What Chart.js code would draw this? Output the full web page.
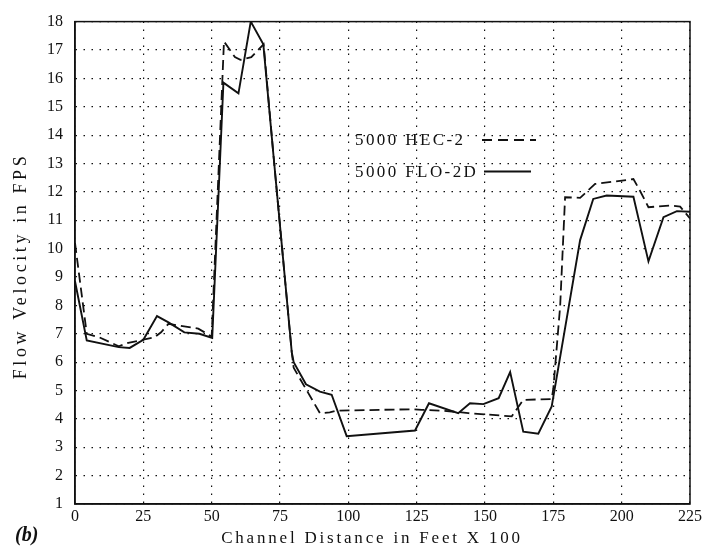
<!DOCTYPE html>
<html>
<head>
<meta charset="utf-8">
<script src="https://cdn.jsdelivr.net/npm/chart.js@4/dist/chart.umd.min.js"></script>
<style>
html,body{margin:0;padding:0;background:#fff;}
#wrap{width:707px;height:549px;position:relative;}
</style>
</head>
<body>
<div id="wrap"><canvas id="c" width="707" height="549"></canvas></div>
<script>
// Tick labels
const xTicks = [0, 25, 50, 75, 100, 125, 150, 175, 200, 225];
const yTicks = [1,2,3,4,5,6,7,8,9,10,11,12,13,14,15,16,17,18];

// Series: 5000 HEC-2 (dashed)
const hecX = [0, 4.3, 9, 16, 19.5, 25, 29, 31.5, 34.2, 45.1, 50, 54.5, 58.5, 60.5, 64.5, 69, 72.6, 79.3, 80, 89.6, 93.2, 95.7, 123.8, 126.9, 133.6, 140.2, 143.9, 159.8, 164, 174.4, 175, 177.5, 179.3, 184.8, 190.3, 199.4, 204.3, 206.7, 209.8, 217.7, 221.4, 225];
const hecY = [10.2, 7.0, 6.87, 6.56, 6.68, 6.79, 6.87, 7.05, 7.35, 7.18, 6.9, 17.3, 16.75, 16.65, 16.75, 17.2, 13.3, 6.35, 5.8, 4.2, 4.23, 4.29, 4.34, 4.32, 4.29, 4.24, 4.2, 4.09, 4.67, 4.7, 5.07, 7.98, 11.81, 11.79, 12.28, 12.39, 12.45, 12.04, 11.46, 11.52, 11.48, 11.06];

// Series: 5000 FLO-2D (solid)
const floX = [0, 4.3, 16, 20, 25, 30, 34.2, 40, 45.5, 50.2, 54.3, 59.8, 64.3, 68.9, 72.6, 79.3, 80, 84.5, 89.6, 93.9, 99.4, 124.4, 129.5, 140.2, 144.5, 149.4, 155, 159.2, 164, 169.5, 174.4, 184.8, 189.6, 194.5, 204.3, 209.8, 215.3, 220.2, 225];
const floY = [8.85, 6.76, 6.53, 6.5, 6.79, 7.62, 7.4, 7.05, 7.0, 6.85, 15.85, 15.47, 18, 17.2, 13.3, 6.35, 6.0, 5.22, 4.96, 4.85, 3.39, 3.59, 4.55, 4.2, 4.55, 4.52, 4.73, 5.65, 3.55, 3.48, 4.44, 10.3, 11.75, 11.87, 11.83, 9.55, 11.11, 11.32, 11.3];

const seriesNames = ['5000 HEC-2', '5000 FLO-2D'];
const xTitle = 'Channel Distance in Feet X 100';
const yTitle = 'Flow Velocity in FPS';
const panelLabel = '(b)';

const toPts = (xs, ys) => xs.map((x, i) => ({x: x, y: ys[i]}));

const INK = '#111';
const SERIF = '"Liberation Serif", "DejaVu Serif", serif';

const decor = {
  id: 'decor',
  afterDraw(chart) {
    const ctx = chart.ctx;
    const a = chart.chartArea;
    ctx.save();
    // frame
    ctx.strokeStyle = INK;
    ctx.lineWidth = 1.5;
    ctx.setLineDash([]);
    ctx.strokeRect(a.left, a.top, a.right - a.left, a.bottom - a.top);

    // legend
    ctx.fillStyle = INK;
    ctx.font = '17px ' + SERIF;
    ctx.textBaseline = 'middle';
    ctx.textAlign = 'left';
    try { ctx.letterSpacing = '2.4px'; } catch (e) {}
    ctx.fillText(seriesNames[0], 355, 141);
    ctx.fillText(seriesNames[1], 355, 173);
    ctx.lineWidth = 1.8;
    ctx.setLineDash([10, 6]);
    ctx.beginPath(); ctx.moveTo(482, 140); ctx.lineTo(536, 140); ctx.stroke();
    ctx.setLineDash([]);
    ctx.beginPath(); ctx.moveTo(484, 171.5); ctx.lineTo(531, 171.5); ctx.stroke();

    // axis titles
    ctx.font = '17px ' + SERIF;
    try { ctx.letterSpacing = '2.8px'; } catch (e) {}
    ctx.textAlign = 'center';
    ctx.textBaseline = 'middle';
    ctx.fillText(xTitle, 372, 539);
    ctx.save();
    ctx.translate(21, 266);
    ctx.rotate(-Math.PI / 2);
    ctx.font = '18px ' + SERIF;
    try { ctx.letterSpacing = '3.6px'; } catch (e) {}
    ctx.fillText(yTitle, 0, 0);
    ctx.restore();

    // panel label
    try { ctx.letterSpacing = '0px'; } catch (e) {}
    ctx.font = 'italic bold 20px ' + SERIF;
    ctx.textAlign = 'left';
    ctx.fillText(panelLabel, 15, 536);
    ctx.restore();
  }
};

new Chart(document.getElementById('c'), {
  type: 'line',
  data: {
    datasets: [
      {
        label: seriesNames[0],
        data: toPts(hecX, hecY),
        borderColor: INK,
        borderWidth: 1.8,
        borderDash: [10, 5],
        pointRadius: 0,
        tension: 0,
        fill: false
      },
      {
        label: seriesNames[1],
        data: toPts(floX, floY),
        borderColor: INK,
        borderWidth: 1.9,
        pointRadius: 0,
        tension: 0,
        fill: false
      }
    ]
  },
  options: {
    responsive: false,
    animation: false,
    devicePixelRatio: 1,
    layout: { padding: { left: 0, top: 16, right: 17, bottom: 0 } },
    plugins: { legend: { display: false }, tooltip: { enabled: false }, title: { display: false } },
    scales: {
      x: {
        type: 'linear',
        min: xTicks[0],
        max: xTicks[xTicks.length - 1],
        afterBuildTicks: s => { s.ticks = xTicks.map(v => ({value: v})); },
        afterFit: s => { s.height = 45; },
        ticks: { color: INK, font: { family: SERIF, size: 16 }, padding: 3, maxRotation: 0, autoSkip: false },
        grid: { color: INK, lineWidth: 1.2, drawTicks: false },
        border: { display: true, color: INK, width: 1.5, dash: [1.5, 6.5] }
      },
      y: {
        type: 'linear',
        min: yTicks[0],
        max: yTicks[yTicks.length - 1],
        afterBuildTicks: s => { s.ticks = yTicks.map(v => ({value: v})); },
        afterFit: s => { s.width = 75; },
        ticks: { color: INK, font: { family: SERIF, size: 16 }, padding: 12, autoSkip: false },
        grid: { color: INK, lineWidth: 1.2, drawTicks: false },
        border: { display: true, color: INK, width: 1.5, dash: [1.5, 6.5] }
      }
    }
  },
  plugins: [decor]
});
</script>
</body>
</html>
